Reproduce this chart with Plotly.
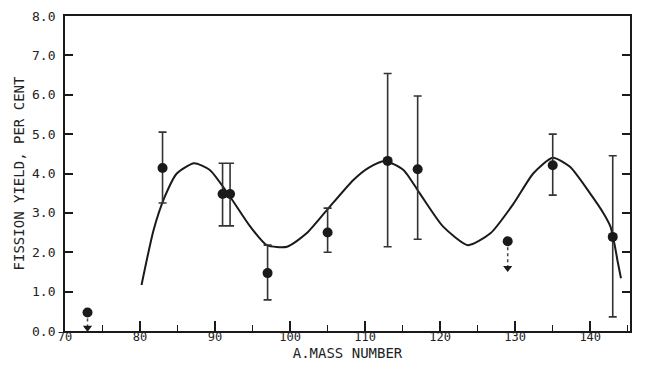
import plotly.graph_objects as go

# measured points with error bars
mass = [83, 91, 92, 97, 105, 113, 117, 135, 143]
yield_pct = [4.14, 3.48, 3.48, 1.47, 2.50, 4.32, 4.11, 4.21, 2.39]
err_high = [5.05, 4.26, 4.26, 2.18, 3.12, 6.54, 5.97, 5.00, 4.45]
err_low = [3.25, 2.67, 2.67, 0.79, 2.00, 2.14, 2.33, 3.45, 0.36]

# upper-limit points (arrow down)
ul_mass = [73, 129]
ul_yield = [0.47, 2.28]
ul_tip = [0.08, 1.60]

# smooth fitted curve
curve_mass = [80.2, 81.8, 83.3, 84.9, 87.2, 89.3, 92.0, 94.7, 96.9, 99.6, 102.2,
              104.9, 108.4, 110.5, 112.6, 115.1, 117.3, 120.4, 123.7, 126.7,
              129.8, 132.4, 135.0, 137.3, 140.0, 141.8, 142.7, 143.3, 143.7, 144.1]
curve_yield = [1.17, 2.56, 3.41, 4.00, 4.26, 4.09, 3.41, 2.65, 2.18, 2.14, 2.48,
               3.07, 3.83, 4.15, 4.32, 4.09, 3.49, 2.65, 2.18, 2.48,
               3.24, 4.00, 4.40, 4.17, 3.49, 2.98, 2.65, 2.14, 1.72, 1.34]

x_ticks = [70, 80, 90, 100, 110, 120, 130, 140]
y_ticks = [0, 1, 2, 3, 4, 5, 6, 7, 8]
y_labels = ["0.0", "1.0", "2.0", "3.0", "4.0", "5.0", "6.0", "7.0", "8.0"]

ink = "#1a1a1a"
fam = "DejaVu Sans Mono"
fig = go.Figure()

fig.add_trace(go.Scatter(
    x=curve_mass, y=curve_yield, mode="lines",
    line=dict(color=ink, width=2, shape="spline", smoothing=0.6),
    hoverinfo="skip", showlegend=False))

fig.add_trace(go.Scatter(
    x=mass, y=yield_pct, mode="markers",
    marker=dict(color=ink, size=10),
    error_y=dict(type="data", symmetric=False,
                 array=[h - v for h, v in zip(err_high, yield_pct)],
                 arrayminus=[v - l for v, l in zip(yield_pct, err_low)],
                 color="#333333", thickness=1.6, width=4),
    showlegend=False))

for xm, yv, tip in zip(ul_mass, ul_yield, ul_tip):
    fig.add_trace(go.Scatter(
        x=[xm, xm], y=[yv, tip], mode="lines",
        line=dict(color="#444444", width=1.5, dash="dot"),
        showlegend=False, hoverinfo="skip"))
    fig.add_trace(go.Scatter(
        x=[xm], y=[tip], mode="markers",
        marker=dict(symbol="triangle-down", color=ink, size=8),
        showlegend=False, hoverinfo="skip"))
    fig.add_trace(go.Scatter(
        x=[xm], y=[yv], mode="markers",
        marker=dict(color=ink, size=10),
        showlegend=False))

fig.update_layout(
    width=639, height=353,
    margin=dict(l=57, r=17, t=8, b=30),
    paper_bgcolor="white", plot_bgcolor="white",
    font=dict(family=fam, size=13, color="#222222"),
    xaxis=dict(range=[70, 145.3], tickvals=x_ticks, automargin=False,
               ticks="inside", ticklen=10, tickwidth=1.5, tickcolor=ink,
               ticklabelstandoff=-6, tickfont=dict(size=12),
               minor=dict(dtick=5, tick0=70, ticks="inside", ticklen=6, tickcolor=ink, tickwidth=1.2),
               showline=True, linecolor=ink, linewidth=1.8, mirror=True,
               showgrid=False, zeroline=False,
               title=dict(text="A.MASS NUMBER", font=dict(family=fam, size=14, color="#222222"),
                          standoff=5)),
    yaxis=dict(range=[0, 8], tickvals=y_ticks, ticktext=y_labels, automargin=False,
               ticks="inside", ticklen=8, tickwidth=1.5, tickcolor=ink,
               ticklabelstandoff=5,
               showline=True, linecolor=ink, linewidth=1.8, mirror="ticks",
               showgrid=False, zeroline=False,
               title=dict(text="FISSION YIELD, PER CENT", font=dict(family=fam, size=14, color="#222222"),
                          standoff=4)),
)

fig.write_html("out.html")
